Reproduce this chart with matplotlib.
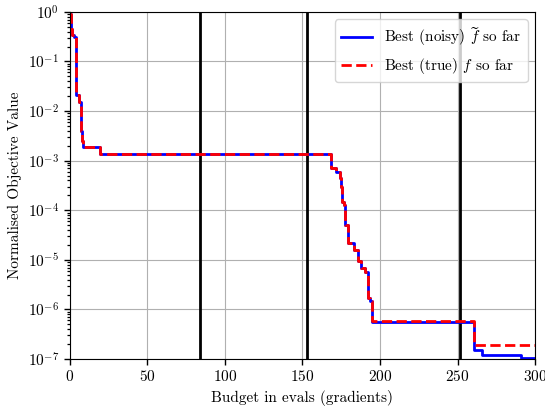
import matplotlib
matplotlib.use("Agg")
import matplotlib.pyplot as plt
from matplotlib.ticker import LogLocator, NullFormatter

plt.rcParams["font.family"] = "serif"
plt.rcParams["font.serif"] = ["cmr10"]
plt.rcParams["mathtext.fontset"] = "cm"
plt.rcParams["axes.formatter.use_mathtext"] = True
plt.rcParams["font.size"] = 11

# step points (value holds until next x)
x_noisy = [0, 1, 1.5, 3, 4.3, 6, 7, 8, 8.6, 19.3, 168.7, 171.7, 173.9, 175, 175.5, 177,
           177.7, 179.2, 183.5, 185.6, 187.8, 190.6, 192.1, 192.5, 193.8, 194.7,
           260.8, 265.7, 290.8, 300]
y_noisy = [0.9, 0.45, 0.34, 0.31, 0.021, 0.015, 0.004, 0.0025, 0.0019, 0.00137, 7e-4, 6e-4,
           4.4e-4, 3e-4, 1.5e-4, 1.3e-4, 5e-5, 2.2e-5, 1.6e-5, 9.3e-6, 6.8e-6, 5.8e-6,
           4.3e-6, 1.7e-6, 1.45e-6, 5.5e-7, 1.55e-7, 1.2e-7, 1.05e-7, 1.05e-7]

x_true = [0, 1, 1.5, 3, 4.3, 6, 7, 8, 8.6, 19.3, 168.7, 171.7, 173.9, 175, 175.5, 177,
          177.7, 179.2, 183.5, 185.6, 187.8, 190.6, 192.1, 192.5, 193.8, 194.7,
          260.8, 300]
y_true = [0.9, 0.45, 0.34, 0.31, 0.021, 0.015, 0.004, 0.0025, 0.0019, 0.00137, 7e-4, 6e-4,
          4.4e-4, 3e-4, 1.5e-4, 1.3e-4, 5e-5, 2.2e-5, 1.6e-5, 9.3e-6, 6.8e-6, 5.8e-6,
          4.3e-6, 1.7e-6, 1.45e-6, 5.9e-7, 1.94e-7, 1.94e-7]

restarts = [84, 153, 251.3]

fig = plt.figure(figsize=(5.45, 4.08), dpi=100)
ax = fig.add_axes([0.128, 0.12, 0.854, 0.851])

for r in restarts:
    ax.axvline(r, color="black", linewidth=2)

ax.plot(x_noisy, y_noisy, drawstyle="steps-post", color="blue", linewidth=2,
        label=r"Best (noisy) $\widetilde{f}$ so far")
ax.plot(x_true, y_true, drawstyle="steps-post", color="red", linewidth=2, linestyle="--",
        label=r"Best (true) $f$ so far")

ax.set_yscale("log")
ax.set_xlim(0, 300)
ax.set_ylim(1e-7, 1)
ax.yaxis.set_major_locator(LogLocator(base=10, numticks=20))
ax.yaxis.set_minor_locator(LogLocator(base=10, subs=range(2, 10), numticks=100))
ax.yaxis.set_minor_formatter(NullFormatter())
ax.tick_params(axis="y", which="minor", length=2.5, width=0.9)
ax.tick_params(which="major", length=4, width=1)
ax.set_xlabel("Budget in evals (gradients)")
ax.set_ylabel("Normalised Objective Value")
ax.grid(True, color="#b0b0b0", linewidth=0.8)
ax.legend(loc="upper right")

fig.savefig("out.png", dpi=100)
